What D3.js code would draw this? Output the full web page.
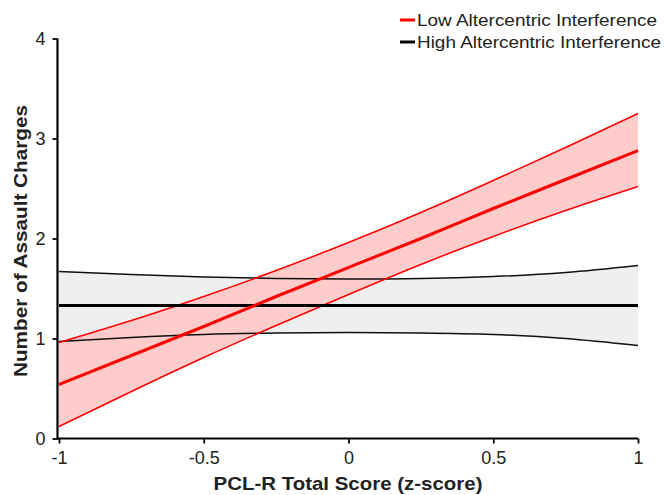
<!DOCTYPE html>
<html>
<head>
<meta charset="utf-8">
<script src="https://cdn.jsdelivr.net/npm/d3@7"></script>
<style>
  body { margin: 0; background: #fff; }
  svg { display: block; }
  text { font-family: "Liberation Sans", Arial, sans-serif; }
</style>
</head>
<body>
<svg id="chart" width="665" height="495"></svg>
<script>
// ---- data ----
const zScores   = [-1, -0.75, -0.5, -0.25, 0, 0.25, 0.5, 0.75, 1];
const lowMean   = [0.54, 0.83, 1.12, 1.42, 1.71, 2.00, 2.30, 2.59, 2.88];
const lowUpper  = [0.96, 1.18, 1.42, 1.68, 1.96, 2.26, 2.58, 2.91, 3.25];
const lowLower  = [0.12, 0.47, 0.81, 1.13, 1.44, 1.74, 2.02, 2.28, 2.52];
const highMean  = [1.33, 1.33, 1.33, 1.33, 1.33, 1.33, 1.33, 1.33, 1.33];
const highUpper = [1.67, 1.64, 1.615, 1.60, 1.595, 1.60, 1.62, 1.66, 1.73];
const highLower = [0.97, 1.01, 1.04, 1.055, 1.06, 1.055, 1.04, 1.00, 0.93];
const xTicks = [-1, -0.5, 0, 0.5, 1];
const yTicks = [0, 1, 2, 3, 4];
const legendLabels = ["Low Altercentric Interference", "High Altercentric Interference"];

const svg = d3.select("#chart");
const x = d3.scaleLinear().domain([-1, 1]).range([59, 638]);
const y = d3.scaleLinear().domain([0, 4]).range([438.5, 38.5]);

const pts = (arr) => zScores.map((z, i) => [z, arr[i]]);
const band = (lo, hi) => zScores.map((z, i) => ({z, lo: lo[i], hi: hi[i]}));
const area = d3.area().x(d => x(d.z)).y0(d => y(d.lo)).y1(d => y(d.hi)).curve(d3.curveNatural);
const line = d3.line().x(d => x(d[0])).y(d => y(d[1])).curve(d3.curveNatural);
const fmt = d => String(d);

// bands
svg.append("path").datum(band(highLower, highUpper)).attr("d", area).attr("fill", "#efefef");
svg.append("path").datum(band(lowLower, lowUpper)).attr("d", area).attr("fill", "#ffcccc");

// CI lines
[[highUpper, "#111"], [highLower, "#111"]].forEach(([a, c]) =>
  svg.append("path").datum(pts(a)).attr("d", line).attr("fill", "none").attr("stroke", c).attr("stroke-width", 1.5));
[[lowUpper, "#ff0000"], [lowLower, "#ff0000"]].forEach(([a, c]) =>
  svg.append("path").datum(pts(a)).attr("d", line).attr("fill", "none").attr("stroke", c).attr("stroke-width", 1.5));

// mean lines
svg.append("path").datum(pts(highMean)).attr("d", line).attr("fill", "none").attr("stroke", "#000").attr("stroke-width", 3);
svg.append("path").datum(pts(lowMean)).attr("d", line).attr("fill", "none").attr("stroke", "#ff0000").attr("stroke-width", 3);

// axes
const xAxis = svg.append("g").attr("transform", "translate(0,438.5)")
  .call(d3.axisBottom(x).tickValues(xTicks).tickSize(5).tickPadding(8).tickFormat(fmt));
xAxis.select(".domain").attr("d", `M57,0H${x(1)}`).attr("stroke-width", 2.2);
xAxis.selectAll(".tick line").attr("stroke-width", 1.8);
xAxis.selectAll("text").attr("font-size", 18).attr("fill", "#222").style("font-family", '"Liberation Sans", Arial, sans-serif');

const yAxis = svg.append("g").attr("transform", "translate(57.5,0)")
  .call(d3.axisLeft(y).tickValues(yTicks).tickSize(5).tickPadding(7).tickFormat(fmt));
yAxis.select(".domain").attr("d", `M0,${y(4)}V${y(0)+1}`).attr("stroke-width", 2.2);
yAxis.selectAll(".tick line").attr("stroke-width", 1.8);
yAxis.selectAll("text").attr("font-size", 18).attr("fill", "#222").style("font-family", '"Liberation Sans", Arial, sans-serif');

// axis titles
svg.append("text").attr("x", 348).attr("y", 490).attr("text-anchor", "middle")
  .attr("font-size", 19).attr("font-weight", "bold").attr("fill", "#222")
  .attr("textLength", 269).attr("lengthAdjust", "spacingAndGlyphs")
  .text("PCL-R Total Score (z-score)");
svg.append("text").attr("transform", "translate(27,241) rotate(-90)").attr("text-anchor", "middle")
  .attr("font-size", 19).attr("font-weight", "bold").attr("fill", "#222")
  .attr("textLength", 272).attr("lengthAdjust", "spacingAndGlyphs")
  .text("Number of Assault Charges");

// legend
const legColors = ["#ff0000", "#000"];
const legWidths = [240, 244];
legendLabels.forEach((lab, i) => {
  const ly = 20 + i * 22;
  svg.append("line").attr("x1", 400).attr("x2", 415).attr("y1", ly).attr("y2", ly)
    .attr("stroke", legColors[i]).attr("stroke-width", 3);
  svg.append("text").attr("x", 417).attr("y", ly + 6).attr("font-size", 17).attr("fill", "#222")
    .attr("textLength", legWidths[i]).attr("lengthAdjust", "spacingAndGlyphs").text(lab);
});
</script>
</body>
</html>
